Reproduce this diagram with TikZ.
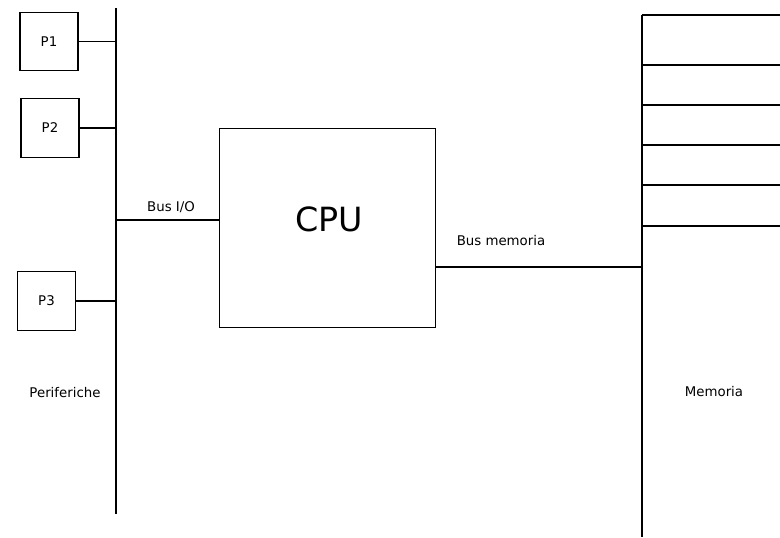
\documentclass[tikz,border=0pt]{standalone}
\usepackage{fontspec}
\setmainfont{DejaVu Sans}
\usetikzlibrary{positioning,calc}

\begin{document}
\begin{tikzpicture}[x=0.75pt,y=-0.75pt,line width=0.8pt,
	bus/.style = {line width=0.8pt}]
	\tikzset{periph/.style={draw,rectangle,inner sep=0pt,minimum width=43.5pt,minimum height=44pt,align=center,font=\fontsize{10}{12}\selectfont}}
	\tikzset{label/.style={inner sep=0pt,font=\fontsize{10}{12}\selectfont}}

	\useasboundingbox (0,0) rectangle (780,537);

	% periferiche e bus I/O
	\coordinate (iotop) at (116,8);
	\coordinate (iobot) at (116,514);
	\draw [bus] (iotop) -- (iobot);

	\node[periph] (p1) at (49,41.5) {P1};
	\node[periph] (p2) at (50,128) {P2};
	\node[periph] (p3) at (46.5,301) {P3};

	\draw [bus] (p1.east) -- (p1.east -| iotop);
	\draw [bus] (p2.east) -- (p2.east -| iotop);
	\draw [bus] (p3.east) -- ($(p3.east -| iotop)+(-1,0)$);

	\node[label] (per) at (65,393) {Periferiche};

	% CPU
	\node[draw,rectangle,inner sep=0pt,minimum width=162pt,minimum height=149.25pt,anchor=north west,font=\fontsize{25}{30}\selectfont] (cpu) at (219,128) {};
	\node[inner sep=0pt,font=\fontsize{25}{30}\selectfont] (cputxt) at (329,219) {CPU};

	\coordinate (cpuio) at (219,220);
	\draw [bus] (cpuio) -- (cpuio -| iotop);
	\node[label] (busio) at (171,207) {Bus I/O};

	% memoria
	\coordinate (memtop) at (642,15);
	\coordinate (membot) at (642,537);
	\draw [bus] (memtop) -- (membot);
	\foreach \y in {15,65,105,145,185,226}
		\draw [bus] (642,\y) -- (780,\y);

	\coordinate (cpumem) at (435,267);
	\draw [bus] (cpumem) -- (cpumem -| memtop);
	\node[label] (busmem) at (501,241) {Bus memoria};

	\node[label] (mem) at (714,392) {Memoria};
\end{tikzpicture}
\end{document}
